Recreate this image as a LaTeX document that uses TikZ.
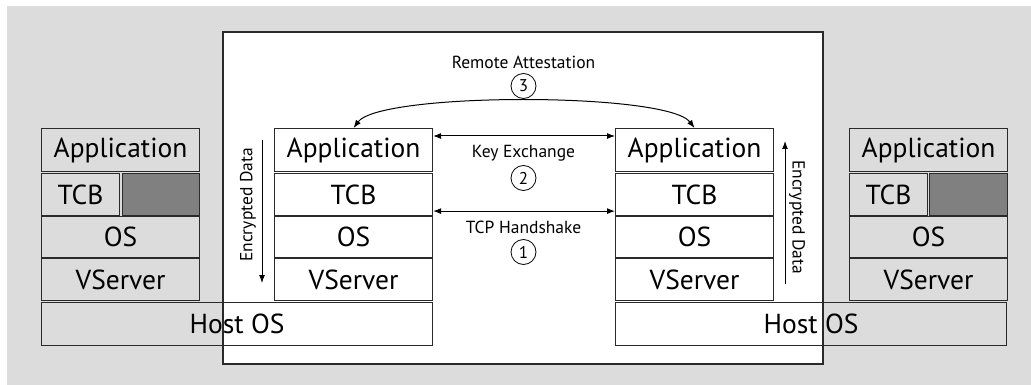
\documentclass[tikz,border=0pt]{standalone}
\usepackage{fontspec}
\setmainfont{PT Sans}
\usetikzlibrary{arrows.meta}
\definecolor{bggrey}{HTML}{DCDCDC}
\definecolor{cellgrey}{HTML}{808080}
\definecolor{edge}{HTML}{2A2A2A}
\tikzset{
  layer/.style={draw=edge, line width=1.1pt, inner sep=0pt, anchor=north west,
    font=\fontsize{27.5}{27.5}\selectfont},
  midlayer/.style={layer, fill=white},
  label/.style={font=\fontsize{17.5}{17.5}\selectfont, inner sep=0pt},
  stepnum/.style={draw=black, circle, line width=0.8pt, minimum size=25pt, inner sep=0pt,
    font=\fontsize{17}{17}\selectfont},
  link/.style={line width=1pt, {Latex[length=8pt,width=6pt]}-{Latex[length=8pt,width=6pt]}},
  flow/.style={line width=1pt, -{Latex[length=8pt,width=6pt]}}
}
\begin{document}
\begin{tikzpicture}[x=1pt,y=-1pt]
\useasboundingbox (0,0) rectangle (1031,385);
% background panel and the trusted region
\fill[bggrey] (7,6) rectangle (1031,385);
\draw[edge, line width=1.1pt, fill=white] (223,32) rectangle (823,364);

% left platform
\node[layer, minimum width=158pt, minimum height=43pt] (lapp) at (41,128) {Application};
\node[layer, minimum width=78pt, minimum height=42pt] (ltcb) at (41,173) {TCB};
\node[layer, fill=cellgrey, minimum width=77pt, minimum height=42pt] (lcell) at (122,173) {};
\node[layer, minimum width=158pt, minimum height=41pt] (los) at (41,216) {OS};
\node[layer, minimum width=158pt, minimum height=42pt] (lvs) at (41,258) {VServer};
\node[layer, minimum width=391pt, minimum height=43pt] (lhost) at (41,302) {Host OS};

% right platform
\node[layer, minimum width=158pt, minimum height=43pt] (rapp) at (849,128) {Application};
\node[layer, minimum width=78pt, minimum height=42pt] (rtcb) at (849,173) {TCB};
\node[layer, fill=cellgrey, minimum width=78pt, minimum height=42pt] (rcell) at (929,173) {};
\node[layer, minimum width=158pt, minimum height=41pt] (ros) at (849,216) {OS};
\node[layer, minimum width=158pt, minimum height=42pt] (rvs) at (849,258) {VServer};
\node[layer, minimum width=391pt, minimum height=43pt] (rhost) at (615,302) {Host OS};

% attested stacks
\node[midlayer, minimum width=158pt, minimum height=43pt] (aapp) at (274,128) {Application};
\node[midlayer, minimum width=158pt, minimum height=42pt] (atcb) at (274,173) {TCB};
\node[midlayer, minimum width=158pt, minimum height=41pt] (aos) at (274,216) {OS};
\node[midlayer, minimum width=158pt, minimum height=42pt] (avs) at (274,258) {VServer};

\node[midlayer, minimum width=158pt, minimum height=43pt] (bapp) at (615,128) {Application};
\node[midlayer, minimum width=158pt, minimum height=42pt] (btcb) at (615,173) {TCB};
\node[midlayer, minimum width=158pt, minimum height=41pt] (bos) at (615,216) {OS};
\node[midlayer, minimum width=158pt, minimum height=42pt] (bvs) at (615,258) {VServer};

% protocol steps
\draw[link] ([yshift=-8pt]aapp.north east) -- ([yshift=-8pt]bapp.north west);
\node[label] (kx) at (523.5,153) {Key Exchange};
\node[stepnum] (s2) at (523.5,178) {2};

\draw[link] ([yshift=5pt]atcb.south east) -- ([yshift=5pt]btcb.south west);
\node[label] (tcp) at (523.5,227) {TCP Handshake};
\node[stepnum] (s1) at (523.5,252) {1};

\draw[link] (aapp.north) .. controls (380,92) and (667,92) .. (bapp.north);
\node[label] (ra) at (523.5,62) {Remote Attestation};
\node[stepnum] (s3) at (523.5,86) {3};

% encrypted data flow
\coordinate (ltop) at (262,140);
\coordinate (lbot) at (262,283);
\draw[flow] (ltop) -- (lbot);
\node[label, rotate=90] (lenc) at (248,205) {Encrypted Data};
\coordinate (rbot) at (785,284);
\coordinate (rtop) at (785,141);
\draw[flow] (rbot) -- (rtop);
\node[label, rotate=-90] (renc) at (797,217) {Encrypted Data};
\end{tikzpicture}
\end{document}
